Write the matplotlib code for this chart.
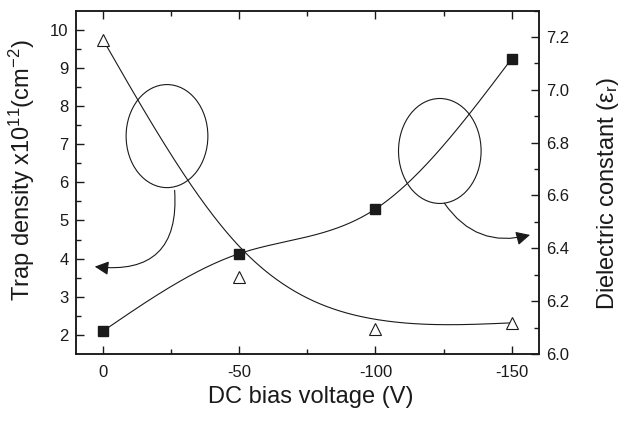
import numpy as np
import matplotlib
matplotlib.use("Agg")
import matplotlib.pyplot as plt
from matplotlib.patches import Ellipse, FancyArrowPatch

# ---------------- data ----------------
bias_voltage = [0, -50, -100, -150]                 # DC bias voltage (V)
trap_density = [2.10, 4.13, 5.30, 9.24]             # x10^11 cm^-2 (left axis, squares)
dielectric_const = [7.19, 6.29, 6.095, 6.118]       # epsilon_r (right axis, triangles)

x_ticks = [0, -50, -100, -150]
left_ticks = [2, 3, 4, 5, 6, 7, 8, 9, 10]
right_ticks = [6.0, 6.2, 6.4, 6.6, 6.8, 7.0, 7.2]

plt.rcParams['font.family'] = ['Liberation Sans', 'DejaVu Sans']
plt.rcParams['mathtext.fontset'] = 'custom'
plt.rcParams['mathtext.rm'] = 'Liberation Sans'
plt.rcParams['mathtext.it'] = 'Liberation Sans:italic'
plt.rcParams['mathtext.sf'] = 'Liberation Sans'
plt.rcParams['axes.unicode_minus'] = False

INK = '#1a1a1a'


def natural_spline(x, y, n=200):
    x = np.asarray(x, float)
    y = np.asarray(y, float)
    m = len(x)
    h = np.diff(x)
    A = np.zeros((m, m))
    b = np.zeros(m)
    A[0, 0] = A[-1, -1] = 1.0
    for i in range(1, m - 1):
        A[i, i - 1] = h[i - 1]
        A[i, i] = 2 * (h[i - 1] + h[i])
        A[i, i + 1] = h[i]
        b[i] = 6 * ((y[i + 1] - y[i]) / h[i] - (y[i] - y[i - 1]) / h[i - 1])
    M = np.linalg.solve(A, b)
    xs, ys = [], []
    for i in range(m - 1):
        t = np.linspace(x[i], x[i + 1], n)
        a = (x[i + 1] - t) / h[i]
        c = (t - x[i]) / h[i]
        s = (a * y[i] + c * y[i + 1]
             + ((a ** 3 - a) * M[i] + (c ** 3 - c) * M[i + 1]) * h[i] ** 2 / 6)
        xs.append(t)
        ys.append(s)
    return np.concatenate(xs), np.concatenate(ys)


def bspline(x, y, n=200):
    P = np.column_stack([x, y]).astype(float)
    P = np.vstack([2 * P[0] - P[1], P, 2 * P[-1] - P[-2]])
    t = np.linspace(0, 1, n)[:, None]
    b0 = (1 - t) ** 3 / 6
    b1 = (3 * t ** 3 - 6 * t ** 2 + 4) / 6
    b2 = (-3 * t ** 3 + 3 * t ** 2 + 3 * t + 1) / 6
    b3 = t ** 3 / 6
    segs = []
    for i in range(1, len(P) - 2):
        segs.append(b0 * P[i - 1] + b1 * P[i] + b2 * P[i + 1] + b3 * P[i + 2])
    C = np.vstack(segs)
    return C[:, 0], C[:, 1]


fig = plt.figure(figsize=(6.24, 4.21), dpi=100)
ax = fig.add_axes([0.1213, 0.1591, 0.7425, 0.8159])
ax2 = ax.twinx()

# squares + spline
sx, sy = natural_spline(bias_voltage, trap_density)
ax.plot(sx, sy, color=INK, lw=0.8, zorder=2)
ax.plot(bias_voltage, trap_density, 's', ms=7.2, color=INK, mec=INK, zorder=3)

# triangles + B-spline
tx, ty = bspline(bias_voltage, dielectric_const)
ax2.plot(tx, ty, color=INK, lw=0.8, zorder=2)
ax2.plot(bias_voltage, dielectric_const, '^', ms=9, mfc='white', mec=INK, mew=0.8, zorder=3)

ax.set_xlim(10, -160)
ax.set_ylim(1.5, 10.5)
ax2.set_ylim(6.0, 7.285)

ax.set_xticks(x_ticks)
ax.set_xticklabels([str(v) for v in x_ticks])
ax.set_xticks([-25, -75, -125], minor=True)
ax.set_yticks(left_ticks)
ax.set_yticks(np.arange(2.5, 10.5, 1.0), minor=True)
ax2.set_yticks(right_ticks)
ax2.set_yticklabels(['%.1f' % v for v in right_ticks])
ax2.set_yticks(np.arange(6.1, 7.3, 0.2), minor=True)

for a in (ax, ax2):
    a.tick_params(which='major', direction='in', length=6, width=1.0, color=INK,
                  labelsize=12, labelcolor=INK, pad=5)
    a.tick_params(which='minor', direction='in', length=3.5, width=1.0, color=INK)
    for sp in a.spines.values():
        sp.set_linewidth(1.1)
        sp.set_color(INK)
ax.tick_params(axis='x', which='both', top=True, pad=8)
ax.tick_params(axis='y', which='both', right=False)

ax.set_xlabel('DC bias voltage (V)', fontsize=17, color=INK)
ax.xaxis.set_label_coords(0.508, -0.093)
ax.set_ylabel(r'Trap density x10$^{\mathregular{11}}$(cm$^{\mathregular{-2}}$)', fontsize=17, color=INK)
ax.yaxis.set_label_coords(-0.0835, 0.536)
ax2.set_ylabel(r'Dielectric constant ($\mathregular{\varepsilon_r}$)', fontsize=17, color=INK)
ax2.yaxis.set_label_coords(1.121, 0.467)

# annotation ellipses and arrows (left-axis data coordinates)
for (cx, cy, w, h) in [(-23.5, 7.21, 30.0, 2.70), (-123.6, 6.82, 30.3, 2.75)]:
    ax.add_patch(Ellipse((cx, cy), w, h, fill=False, ec=INK, lw=0.8, zorder=4))

for (p0, p1, rad) in [((-26.3, 5.79), (3.0, 3.79), -0.6),
                      ((-125.3, 5.45), (-156.7, 4.62), 0.35)]:
    arr = FancyArrowPatch(p0, p1, connectionstyle='arc3,rad=%s' % rad,
                          arrowstyle='-|>,head_length=0.7,head_width=0.35',
                          mutation_scale=12, color=INK, lw=0.8,
                          shrinkA=0, shrinkB=0, zorder=4)
    ax.add_patch(arr)

fig.savefig('out.png', dpi=100)
